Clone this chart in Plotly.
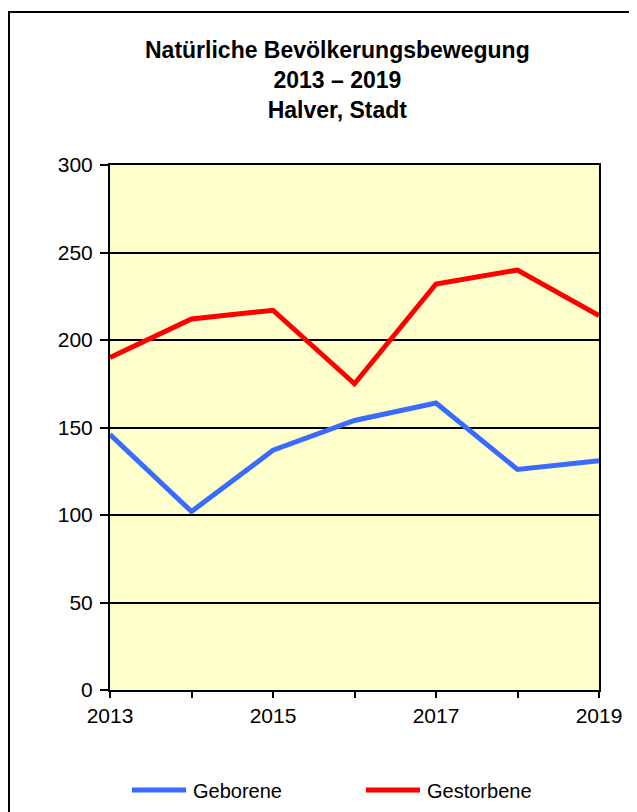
import plotly.graph_objects as go

years = [2013, 2014, 2015, 2016, 2017, 2018, 2019]
geborene = [146, 102, 137, 154, 164, 126, 131]
gestorbene = [190, 212, 217, 175, 232, 240, 214]
series_names = ["Geborene", "Gestorbene"]
series_colors = ["#3A6BFF", "#FF0000"]
x_tick_labels = ["2013", "", "2015", "", "2017", "", "2019"]
y_ticks = [0, 50, 100, 150, 200, 250, 300]
title_lines = ["Natürliche Bevölkerungsbewegung", "2013 – 2019", "Halver, Stadt"]

W, H = 637, 812
OFF = 8  # page body margin
# plot area in page pixels: x 110..599, y 165..690
PL, PR, PT, PB = 110, 599, 165, 690
L = PL - OFF
T = PT - OFF
R = W - (PR - OFF)
B = H - (PB - OFF)
pw, ph = PR - PL, PB - PT

def px_x(p):  # page pixel -> paper x
    return (p - PL) / pw

def px_y(p):  # page pixel -> paper y
    return (PB - p) / ph

FONT = "Liberation Sans, Arial, sans-serif"

fig = go.Figure()
for vals, name, col in zip([geborene, gestorbene], series_names, series_colors):
    fig.add_trace(go.Scatter(x=years, y=vals, mode="lines", name=name,
                             line=dict(color=col, width=5), showlegend=False))

shapes = [dict(type="rect", xref="paper", yref="paper",
               x0=px_x(OFF + 1), x1=px_x(660), y0=px_y(840), y1=px_y(12),
               line=dict(color="black", width=2), fillcolor="rgba(0,0,0,0)",
               layer="below")]
annotations = []

# title (one multi-line text)
annotations.append(dict(text="<b>" + "<br>".join(title_lines) + "</b>",
                        xref="paper", yref="paper",
                        x=px_x(337), y=px_y(80), xanchor="center", yanchor="middle",
                        showarrow=False, align="center",
                        font=dict(size=23, family=FONT, color="black")))

# manual legend
leg = [(132, 186, 191), (366, 420, 425)]
for (x0, x1, xt), name, col in zip(leg, series_names, series_colors):
    shapes.append(dict(type="line", xref="paper", yref="paper",
                       x0=px_x(x0), x1=px_x(x1), y0=px_y(790), y1=px_y(790),
                       line=dict(color=col, width=5)))
    annotations.append(dict(text=name, xref="paper", yref="paper",
                            x=px_x(xt), y=px_y(791), xanchor="left", yanchor="middle",
                            showarrow=False, font=dict(size=20, family=FONT, color="black")))

fig.update_layout(
    width=W, height=H,
    margin=dict(l=L, r=R, t=T, b=B, autoexpand=False),
    paper_bgcolor="white",
    plot_bgcolor="#FFFFCC",
    font=dict(family=FONT, size=20, color="black"),
    showlegend=False,
    xaxis=dict(
        range=[2013, 2019], tickvals=years, ticktext=x_tick_labels,
        showgrid=False, zeroline=False,
        showline=True, linecolor="black", linewidth=2, mirror=True,
        ticks="outside", ticklen=6, tickwidth=2, tickcolor="black",
        tickfont=dict(size=21),
    ),
    yaxis=dict(
        range=[0, 300], tickvals=y_ticks,
        showgrid=True, gridcolor="black", gridwidth=2, zeroline=False,
        showline=True, linecolor="black", linewidth=2, mirror=True,
        ticks="outside", ticklen=8, tickwidth=2, tickcolor="black",
        tickfont=dict(size=21), ticklabelstandoff=3,
    ),
    shapes=shapes,
    annotations=annotations,
)

fig.write_html("out.html")
